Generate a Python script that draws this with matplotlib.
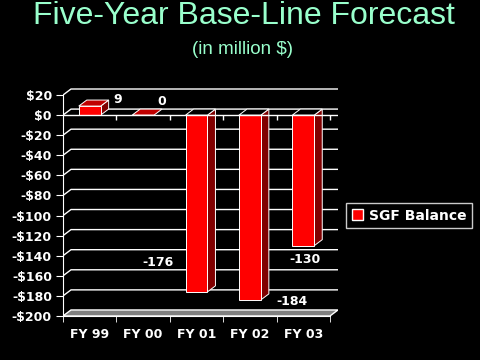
import matplotlib
matplotlib.use('Agg')
import matplotlib.pyplot as plt
from matplotlib.patches import Polygon, Patch

# data
years = ['FY 99', 'FY 00', 'FY 01', 'FY 02', 'FY 03']
balance = [9, 0, -176, -184, -130]
series_name = 'SGF Balance'
yticks = list(range(-200, 21, 20))
# label offsets (cat units, $) relative to bar value
lab_dx = [0.53, 0.35, -0.72, 0.79, 0.03]
lab_dy = [7, 14, 29, -2, -14]

def money(v):
    return '$%d' % v if v >= 0 else '-$%d' % abs(v)

fig = plt.figure(figsize=(4.8, 3.6), dpi=100, facecolor='black')
ax = fig.add_axes([63/480, 1-320/360, 275/480, 232/360])
ax.set_facecolor('black')

ddx = 0.15   # depth offset in category units
ddy = 6      # depth offset in value units
w = 0.41
ax.set_xlim(-0.5, 4.5 + ddx)
ax.set_ylim(-204, 27)

# back grid with little diagonal at the wall
for v in yticks[1:]:
    ax.plot([-0.5, -0.5 + ddx, 4.5 + ddx], [v, v + ddy, v + ddy],
            color='white', lw=1, zorder=1)

# floor
lo = yticks[0]
ax.add_patch(Polygon([(-0.5, lo), (4.5, lo), (4.5 + ddx, lo + ddy), (-0.5 + ddx, lo + ddy)],
                     closed=True, facecolor='#808080', edgecolor='white', lw=1, zorder=2))

# bars
for i, v in enumerate(balance):
    x0, x1 = i - w/2, i + w/2
    top = max(v, 0)
    if v != 0:
        ax.add_patch(Polygon([(x1, 0), (x1 + ddx, ddy), (x1 + ddx, v + ddy), (x1, v)],
                             closed=True, facecolor='#800000', edgecolor='white', lw=0.7, zorder=3))
        ax.add_patch(Polygon([(x0, 0), (x1, 0), (x1, v), (x0, v)],
                             closed=True, facecolor='#FF0000', edgecolor='white', lw=0.7, zorder=4))
    topcol = 'black' if v < 0 else '#C00000'
    ax.add_patch(Polygon([(x0, top), (x1, top), (x1 + ddx, top + ddy), (x0 + ddx, top + ddy)],
                         closed=True, facecolor=topcol, edgecolor='white', lw=0.7, zorder=4))
    ax.text(i + lab_dx[i], v + lab_dy[i], str(v), color='white', fontsize=9,
            fontweight='bold', ha='center', va='center', zorder=6)

# front zero line with category ticks
ax.plot([-0.5, 4.5 + ddx], [0, 0], color='white', lw=1, zorder=5)
ax.vlines([b + 0.5 for b in range(5)], -5, 0, color='white', lw=1, zorder=5)

# axes
for s in ['top', 'right']:
    ax.spines[s].set_visible(False)
ax.spines['left'].set_bounds(yticks[0], yticks[-1])
ax.spines['left'].set_color('white')
ax.spines['bottom'].set_position(('data', yticks[0]))
ax.spines['bottom'].set_bounds(-0.5, 4.5)
ax.spines['bottom'].set_color('white')
ax.set_yticks(yticks)
ax.set_yticklabels([money(v) for v in yticks], color='white', fontsize=9, fontweight='bold')
ax.set_xticks(range(len(years)))
ax.set_xticklabels(years, color='white', fontsize=9, fontweight='bold')
ax.set_xticks([b + 0.5 for b in range(-1, 5)], minor=True)
ax.tick_params(axis='y', colors='white', length=5, pad=3)
ax.tick_params(axis='x', which='major', length=0, pad=9)
ax.tick_params(axis='x', which='minor', colors='white', length=4)

fig.text(0.508, 1-16/360, 'Five-Year Base-Line Forecast', color='#99FFCC',
         fontsize=23, family='Liberation Sans', ha='center', va='center')
fig.text(0.506, 1-50/360, '(in million $)', color='#99FFCC',
         fontsize=13.5, family='Liberation Sans', ha='center', va='center')

leg = fig.legend(handles=[Patch(facecolor='red', edgecolor='white')], labels=[series_name],
                 loc='center', bbox_to_anchor=(409/480, 1-215.5/360),
                 frameon=True, fancybox=False, facecolor='black', edgecolor='white',
                 handlelength=0.8, handleheight=0.8, handletextpad=0.4,
                 borderpad=0.4, prop={'weight': 'bold', 'size': 10})
for t in leg.get_texts():
    t.set_color('white')
leg.get_frame().set_linewidth(1)

fig.savefig('out.png', dpi=100, facecolor='black')
